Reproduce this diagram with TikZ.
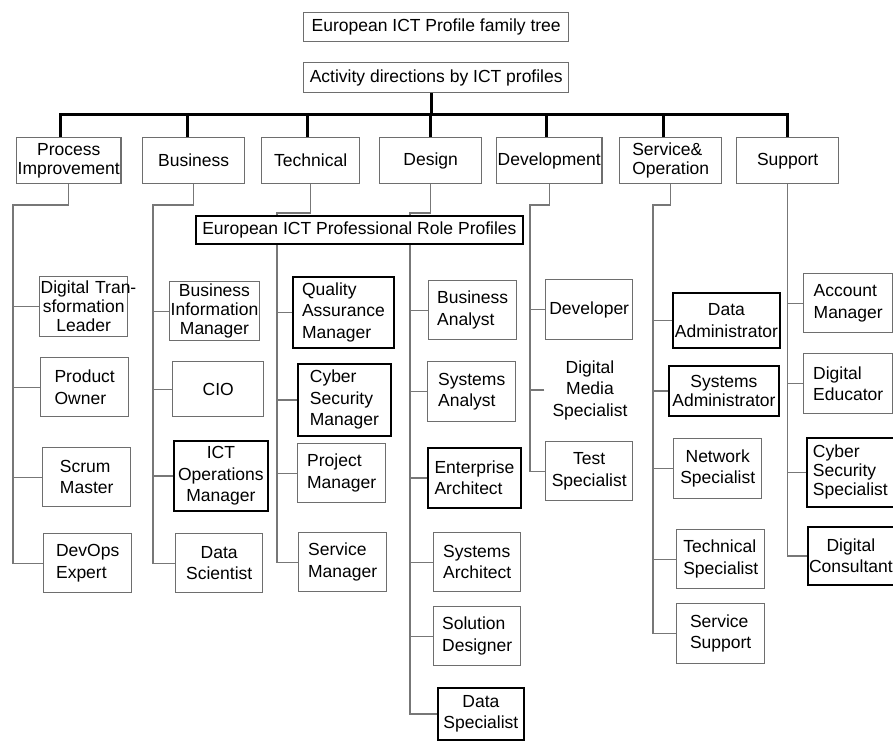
\documentclass[tikz,border=0pt]{standalone}
\usepackage{fontspec}
\setmainfont{Liberation Sans}
\definecolor{boxgray}{HTML}{6E6E6E}
\definecolor{linegray}{HTML}{777777}
\begin{document}
\begin{tikzpicture}
  [x=1pt,y=-1pt,every node/.style={rectangle,anchor=north west,inner sep=1pt,align=center,
    font=\fontsize{17.5pt}{21.5pt}\selectfont},
   sz/.style 2 args={minimum width=#1pt,minimum height=#2pt},
   tight/.style={font=\fontsize{17.5pt}{19pt}\selectfont}]
  \tikzstyle{gbox} = [draw=boxgray,line width=1.4pt]
  \tikzstyle{kbox} = [draw=black,line width=1.8pt]
  \tikzstyle{lnk} = [draw=linegray,line width=1.3pt]
  \tikzstyle{bar} = [draw=black,line width=2.8pt]
  \useasboundingbox (0,0) rectangle (893,740);
  \node[gbox,sz={265}{29}] (ttl) at (303,12) {European ICT Profile family tree};
  \node[gbox,sz={265}{30}] (act) at (303,62) {Activity directions by ICT profiles};
  \node[gbox,sz={101}{46},tight] (pi) at (16,137) {Process\\Improvement};
  \node[gbox,sz={102}{46}] (bu) at (142,137) {Business};
  \node[gbox,sz={98}{46}] (te) at (261,137) {Technical};
  \node[gbox,sz={102}{46}] (de) at (379,137) {Design};
  \node[gbox,sz={102}{46}] (dv) at (496,137) {Development};
  \node[gbox,sz={102}{46},align=left,tight] (so) at (619,137) {Service\&\\Operation};
  \node[gbox,sz={102}{46}] (su) at (736,137) {Support};
  \node[kbox,sz={327}{28}] (eu) at (195,215) {European ICT Professional Role Profiles};
  % process improvement
  \node[gbox,sz={88}{60},text width=86pt,tight] (dtl) at (39,276) {\mbox{Digital Tran-}\\sformation\\Leader};
  \node[gbox,sz={88}{59},align=left] (po) at (40,357) {Product\\Owner};
  \node[gbox,sz={88}{59},align=left] (scm) at (42,447) {Scrum\\Master};
  \node[gbox,sz={88}{59},align=left] (doe) at (43,533) {DevOps\\Expert};
  % business
  \node[gbox,sz={88}{59},tight] (bim) at (169,281) {Business\\Information\\Manager};
  \node[gbox,sz={91}{55}] (cio) at (172,361) {CIO};
  \node[kbox,sz={94}{70}] (icto) at (173,440) {ICT\\Operations\\Manager};
  \node[gbox,sz={87}{59}] (dsc) at (175,533) {Data\\Scientist};
  % technical
  \node[kbox,sz={101}{71},align=left] (qam) at (292,276) {Quality\\Assurance\\Manager};
  \node[kbox,sz={93}{72},align=left] (csm) at (297,363) {Cyber\\Security\\Manager};
  \node[gbox,sz={88}{59},align=left] (pm) at (297,443) {Project\\Manager};
  \node[gbox,sz={88}{59},align=left] (smg) at (298,532) {Service\\Manager};
  % design
  \node[gbox,sz={88}{59},align=left] (ba) at (428,280) {Business\\Analyst};
  \node[gbox,sz={88}{60},align=left] (san) at (427,361) {Systems\\Analyst};
  \node[kbox,sz={93}{60},align=left] (ea) at (427,447) {Enterprise\\Architect};
  \node[gbox,sz={87}{59},align=left] (syar) at (433,532) {Systems\\Architect};
  \node[gbox,sz={87}{59},align=left] (sde) at (433,606) {Solution\\Designer};
  \node[kbox,sz={86}{52}] (dsp) at (437,687) {Data\\Specialist};
  % development
  \node[gbox,sz={87}{60}] (dvl) at (545,279) {Developer};
  \node[anchor=center,inner xsep=8pt] (dms) at (590,390) {Digital\\Media\\Specialist};
  \node[gbox,sz={87}{59}] (tsp) at (545,441) {Test\\Specialist};
  % service & operation
  \node[kbox,sz={107}{55}] (dad) at (672,292) {Data\\Administrator};
  \node[kbox,sz={110}{50},tight] (sad) at (668,365) {Systems\\Administrator};
  \node[gbox,sz={88}{60}] (nsp) at (673,438) {Network\\Specialist};
  \node[gbox,sz={88}{59},align=left] (tsc) at (676,529) {Technical\\Specialist};
  \node[gbox,sz={88}{60},align=left] (ssu) at (676,603) {Service\\Support};
  % support
  \node[gbox,sz={89}{59},align=left] (amg) at (803,273) {Account\\Manager};
  \node[gbox,sz={89}{60},align=left] (ded) at (803,353) {Digital\\Educator};
  \node[kbox,sz={87}{69},align=left,tight] (css) at (806,437) {Cyber\\Security\\Specialist};
  \node[kbox,sz={86}{58}] (dcon) at (807,526) {Digital\\Consultant};

  \draw[bar] ([xshift=-5pt]act.south) -- ++(0,21) coordinate (hub);
  \foreach \dest/\dx in {pi/-8pt,bu/-6pt,te/-3pt,de/0pt,dv/-3pt,so/-7pt,su/0pt}
    \draw[bar] (hub) -| ([xshift=\dx]\dest.north);

  \coordinate (pi-s) at (13,205);
  \draw[lnk] (pi.south) |- (pi-s) -- (pi-s |- doe.west) -- (doe.west);
  \foreach \n in {dtl,po,scm} \draw[lnk] (\n.west) -- (\n.west -| pi-s);

  \coordinate (bu-s) at (153,205);
  \draw[lnk] (bu.south) |- (bu-s) -- (bu-s |- dsc.west) -- (dsc.west);
  \foreach \n in {bim,cio,icto} \draw[lnk] (\n.west) -- (\n.west -| bu-s);

  \coordinate (te-s) at (277,213);
  \draw[lnk] (te.south) |- (te-s) -- (te-s |- eu.north);
  \draw[lnk] (te-s |- eu.south) -- (te-s |- smg.west) -- (smg.west);
  \foreach \n in {qam,csm,pm} \draw[lnk] (\n.west) -- (\n.west -| te-s);

  \coordinate (de-s) at (410,213);
  \draw[lnk] (de.south) |- (de-s) -- (de-s |- eu.north);
  \draw[lnk] (de-s |- eu.south) -- (de-s |- dsp.west) -- (dsp.west);
  \foreach \n in {ba,san,ea,syar,sde} \draw[lnk] (\n.west) -- (\n.west -| de-s);

  \coordinate (dv-s) at (530,205);
  \draw[lnk] (dv.south) |- (dv-s) -- (dv-s |- tsp.west) -- (tsp.west);
  \foreach \n in {dvl,dms} \draw[lnk] (\n.west) -- (\n.west -| dv-s);

  \coordinate (so-s) at (653,205);
  \draw[lnk] (so.south) |- (so-s) -- (so-s |- ssu.west) -- (ssu.west);
  \foreach \n in {dad,sad,nsp,tsc} \draw[lnk] (\n.west) -- (\n.west -| so-s);

  \draw[lnk] (su.south) -- (su.south |- dcon.west) -- (dcon.west);
  \foreach \n in {amg,ded,css} \draw[lnk] (\n.west) -- (\n.west -| su.south);
\end{tikzpicture}
\end{document}
